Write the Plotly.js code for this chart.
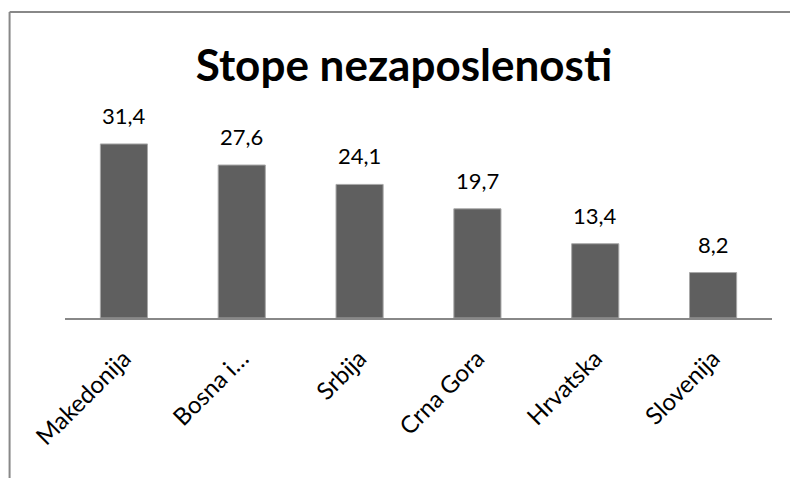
<!DOCTYPE html>
<html>
<head>
<meta charset="utf-8">
<script src="https://cdn.plot.ly/plotly-3.0.1.min.js"></script>
<style>html,body{margin:0;padding:0;background:#fff;}#chart{width:790px;height:478px;}</style>
</head>
<body>
<div id="chart"></div>
<script>
const categories = ["Makedonija", "Bosna i Hercegovina", "Srbija", "Crna Gora", "Hrvatska", "Slovenija"];
const tickLabels = ["Makedonija", "Bosna i…", "Srbija", "Crna Gora", "Hrvatska", "Slovenija"];
const values = [31.4, 27.6, 24.1, 19.7, 13.4, 8.2];
const chartTitle = "Stope nezaposlenosti";

const FONT = "Lato, 'Open Sans', sans-serif";

const trace = {
  type: "bar",
  x: categories,
  y: values,
  width: 0.4,
  marker: { color: "#5f5f5f", line: { color: "#a8a8a8", width: 1 } },
  hoverinfo: "skip"
};

const valueLabels = categories.map((c, i) => ({
  x: c, y: values[i], xref: "x", yref: "y",
  text: values[i].toFixed(1).replace(".", ","),
  showarrow: false, xanchor: "center", yanchor: "bottom", yshift: 13,
  font: { family: FONT, size: 22, color: "#000" }
}));

const layout = {
  width: 790,
  height: 478,
  separators: ", ",
  margin: { l: 64.5, r: 17.5, t: 124, b: 160, pad: 0 },
  paper_bgcolor: "#fff",
  plot_bgcolor: "#fff",
  showlegend: false,
  bargap: 0.6,
  title: {
    text: "<b>" + chartTitle + "</b>",
    font: { family: FONT, size: 44, color: "#000" },
    x: 404 / 790, xanchor: "center",
    y: 1 - 66 / 478, yanchor: "middle",
    xref: "container", yref: "container"
  },
  xaxis: {
    type: "category",
    tickvals: categories,
    ticktext: tickLabels,
    tickangle: -45,
    tickfont: { family: FONT, size: 24, color: "#000" },
    ticklabelstandoff: 15,
    showline: true,
    linecolor: "#888",
    linewidth: 2,
    ticks: "",
    showgrid: false,
    zeroline: false,
    fixedrange: true
  },
  yaxis: {
    range: [0, 35],
    visible: false,
    showgrid: false,
    zeroline: false,
    fixedrange: true
  },
  annotations: valueLabels,
  shapes: [
    { type: "line", xref: "paper", yref: "paper",
      x0: (9 - 64.5) / 708, x1: (9 - 64.5) / 708,
      y0: (318 - 12) / 194, y1: (318 - 480) / 194,
      line: { color: "#888", width: 2 } },
    { type: "line", xref: "paper", yref: "paper",
      x0: (9 - 64.5) / 708, x1: (792 - 64.5) / 708,
      y0: (318 - 12) / 194, y1: (318 - 12) / 194,
      line: { color: "#888", width: 2 } }
  ]
};

Plotly.newPlot("chart", [trace], layout, { displayModeBar: false, staticPlot: true });
</script>
</body>
</html>
